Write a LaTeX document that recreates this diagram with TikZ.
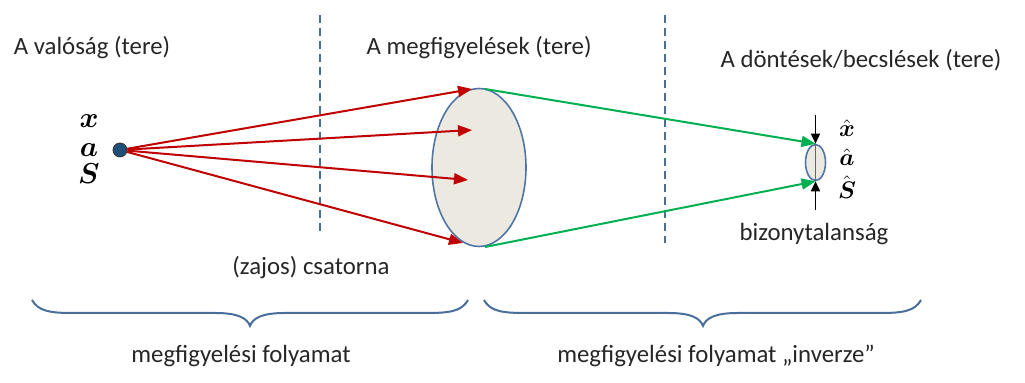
\documentclass[tikz,border=0pt]{standalone}
\usepackage{amsmath}
\usepackage{fontspec}
\setmainfont{Carlito}
\usetikzlibrary{arrows.meta,shapes.geometric}
\definecolor{redarrow}{HTML}{C00000}
\definecolor{greenarrow}{HTML}{00B050}
\definecolor{steel}{HTML}{4A6E9C}
\definecolor{lensfill}{HTML}{ECEAE0}
\definecolor{lensline}{HTML}{4F75A8}
\definecolor{dotfill}{HTML}{1F4E79}
\definecolor{txt}{HTML}{262626}
\tikzset{
  lbl/.style={text=txt, inner sep=0pt, font=\fontsize{12.4pt}{15pt}\selectfont},
  sym/.style={inner sep=0pt, anchor=base, font=\fontsize{13.5pt}{16pt}\selectfont},
  hatsym/.style={sym, font=\fontsize{13pt}{15pt}\selectfont},
  sep/.style={draw=steel, line width=1pt, dash pattern=on 4pt off 2.5pt},
  lens/.style={ellipse, draw=lensline, line width=0.8pt, fill=lensfill, inner sep=0pt},
  ray/.style={draw=redarrow, line width=1pt, -{Triangle[length=7pt,width=5.5pt]}},
  back/.style={draw=greenarrow, line width=1pt, -{Triangle[length=7pt,width=5.5pt]}},
  bound/.style={draw=black, line width=0.8pt, -{Triangle[length=5pt,width=4.5pt]}},
  bracefig/.style={draw=steel, line width=1pt},
}
\begin{document}
\begin{tikzpicture}[x=0.5pt,y=-0.5pt]
\useasboundingbox (0,0) rectangle (1025,383);

% section separators
\draw[sep] (320,15) -- (320,233);
\draw[sep] (665,15) -- (665,243);

% headings
\node[lbl] (h1) at (92,48) {A valóság (tere)};
\node[lbl] (h2) at (479,48) {A megfigyelések (tere)};
\node[lbl] (h3) at (861,60) {A döntések/becslések (tere)};

% source point and its variables
\node[circle, fill=dotfill, draw=black!80, line width=0.4pt, minimum size=7pt, inner sep=0pt] (src) at (120,150) {};
\node[sym] (vx) at (89,128) {$\boldsymbol{x}$};
\node[sym] (va) at (89,157) {$\boldsymbol{a}$};
\node[sym] (vs) at (89,184) {$\boldsymbol{S}$};

% observation space
\node[lens, minimum width=47pt, minimum height=79pt] (obs) at (479,167.5) {};
\coordinate (r1) at (472,89);
\coordinate (r2) at (472,130);
\coordinate (r3) at (468,180);
\coordinate (r4) at (463,243);
\foreach \t in {r1,r2,r3,r4} \draw[ray] (src) -- (\t);

% estimate region
\node[lens, minimum width=10pt, minimum height=18pt] (est) at (815.5,162.5) {};
\coordinate (g1) at (485,89);
\coordinate (g2) at (485,247);
\draw[back] (g1) -- (est.north);
\draw[back] (g2) -- (est.south);

% uncertainty bounds
\coordinate (btop) at (815.5,115);
\coordinate (bbot) at (815.5,210);
\draw[black!60, line width=0.6pt] (est.north) -- (est.south);
\draw[bound] (btop) -- (est.north);
\draw[bound] (bbot) -- (est.south);

\node[hatsym] (ex) at (847,137) {$\hat{\boldsymbol{x}}$};
\node[hatsym] (ea) at (847,166) {$\hat{\boldsymbol{a}}$};
\node[hatsym] (es) at (847,199) {$\hat{\boldsymbol{S}}$};

\node[lbl] (unc) at (814,234) {bizonytalanság};
\node[lbl] (chan) at (311,268) {(zajos) csatorna};

% braces under the two processes
\draw[bracefig] (32,300) .. controls (38,311) and (50,313) .. (72,313) -- (215,313)
  .. controls (238,313) and (247,318) .. (250,326)
  .. controls (253,318) and (262,313) .. (285,313) -- (428,313)
  .. controls (450,313) and (462,311) .. (468,300);
\draw[bracefig] (484,300) .. controls (490,311) and (502,313) .. (524,313) -- (668,313)
  .. controls (691,313) and (700,318) .. (703,326)
  .. controls (706,318) and (715,313) .. (738,313) -- (881,313)
  .. controls (903,313) and (915,311) .. (921,300);

\node[lbl] (p1) at (241,356) {megfigyelési folyamat};
\node[lbl] (p2) at (716,356) {megfigyelési folyamat „inverze”};
\end{tikzpicture}
\end{document}
